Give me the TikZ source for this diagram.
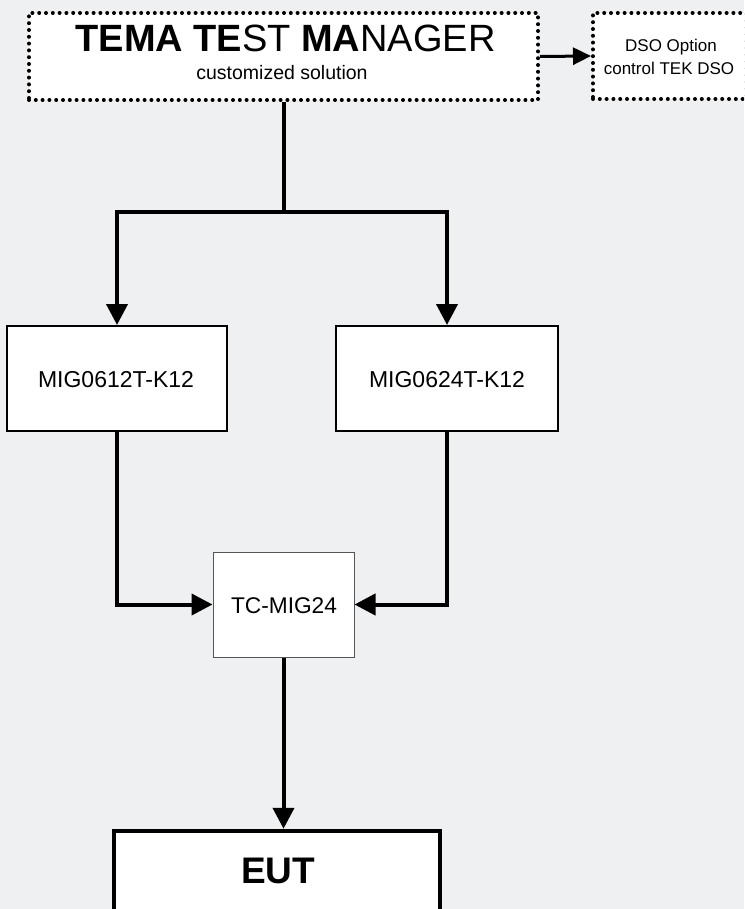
\documentclass[tikz,border=0pt]{standalone}
\usepackage{fontspec}
\setmainfont{Liberation Sans}
\usetikzlibrary{arrows.meta}
\definecolor{bgc}{HTML}{EFF0F2}
\definecolor{tcborder}{HTML}{555555}
\tikzset{
  dotbox/.style={draw=black, fill=white, line width=4pt, dash pattern=on 0pt off 6.8pt, line cap=round, rectangle, inner sep=0pt},
  migbox/.style={draw=black, fill=white, line width=2pt, rectangle, inner sep=0pt, minimum width=220pt, minimum height=105pt},
  tcbox/.style={draw=tcborder, fill=white, line width=1pt, rectangle, inner sep=0pt, minimum width=141pt, minimum height=105pt},
  eutbox/.style={draw=black, fill=white, line width=4.5pt, rectangle, inner sep=0pt, minimum width=326pt, minimum height=150pt},
  label/.style={inner sep=0pt, anchor=base, text=black},
  conn/.style={draw=black, line width=4pt},
  arr/.style={conn, -{Triangle[length=21pt, width=21pt]}},
  smallarr/.style={draw=black, line width=3pt, -{Triangle[length=18pt, width=17pt]}}
}
\begin{document}
\begin{tikzpicture}[x=1pt, y=-1pt]
  \fill[bgc] (0,0) rectangle (744,909);
  \useasboundingbox (0,0) rectangle (744,909);
  \begin{scope}
  \clip (0,0) rectangle (744,909);
  % boxes
  \node[dotbox, minimum width=509pt, minimum height=87pt] (tema) at (283.5,56.5) {};
  \node[dotbox, minimum width=153pt, minimum height=86pt] (dso) at (669.5,56) {};
  \node[migbox] (mig1) at (117,378.5) {};
  \node[migbox, minimum width=222pt] (mig2) at (447,378.5) {};
  \node[tcbox] (tc) at (283.5,604.5) {};
  \node[eutbox] (eut) at (277,906) {};
  % texts
  \node[label, anchor=center, font=\fontsize{38}{40}\selectfont] (title) at (285.5,38.5) {\bfseries TEMA TE\mdseries ST \bfseries MA\mdseries NAGER};
  \node[label, font=\fontsize{19.5}{22}\selectfont] (sub) at (282,80) {customized solution};
  \node[label, font=\fontsize{17}{20}\selectfont] (dso1) at (671,52) {DSO Option};
  \node[label, font=\fontsize{17}{20}\selectfont] (dso2) at (669,75) {control TEK DSO};
  \node[label, font=\fontsize{23}{26}\selectfont] (mig1t) at (116,387) {MIG0612T-K12};
  \node[label, font=\fontsize{23}{26}\selectfont] (mig2t) at (447,387) {MIG0624T-K12};
  \node[label, font=\fontsize{22.7}{26}\selectfont] (tct) at (284,613) {TC-MIG24};
  \node[label, font=\bfseries\fontsize{37}{40}\selectfont] (eutt) at (278,883) {EUT};
  % connectors
  \coordinate (split) at (284,212);
  \draw[conn] (tema.south -| split) -- (split);
  \draw[arr] (split) -| (mig1.north);
  \draw[arr] (split) -| (mig2.north);
  \draw[smallarr] (tema.east) -- (dso.west);
  \draw[arr] (mig1.south) |- (tc.west);
  \draw[arr] (mig2.south) |- (tc.east);
  \draw[arr] (tc.south) -- (tc.south |- eut.north);
  \end{scope}
\end{tikzpicture}
\end{document}
